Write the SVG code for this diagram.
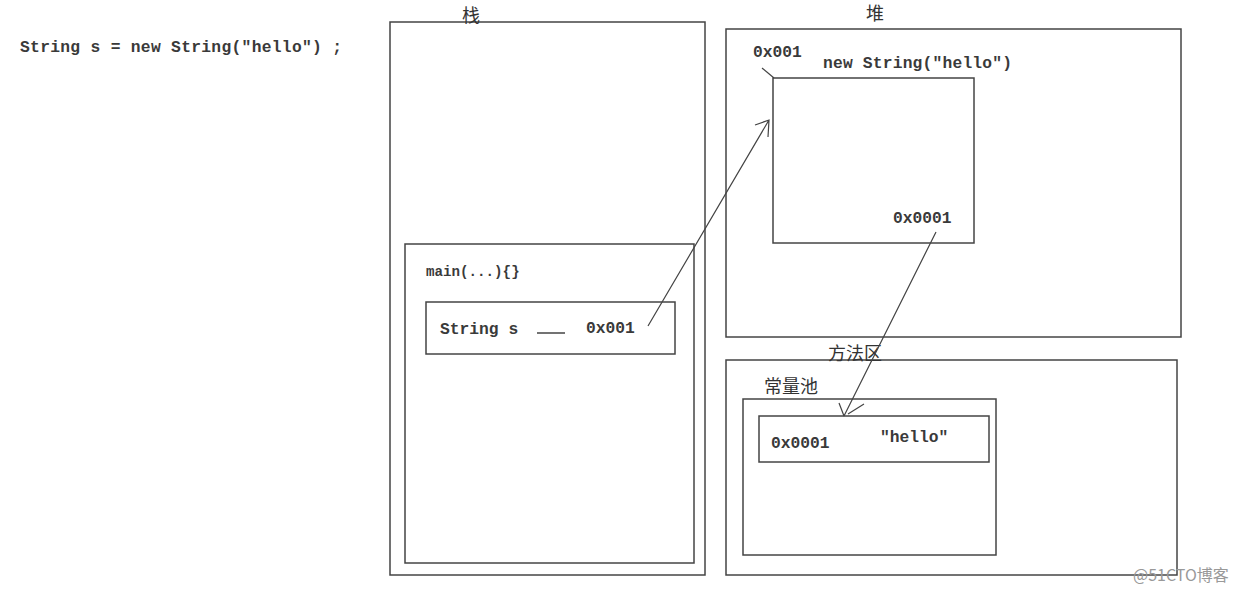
<svg xmlns="http://www.w3.org/2000/svg" width="1240" height="592" viewBox="0 0 1240 592">
<defs>
<style>
.box{fill:none;stroke:#444;stroke-width:1.5}
.mono{font-family:"Liberation Mono","Courier New",monospace;font-size:16.3px;fill:#3a3a3a;font-weight:bold}
.cjk{font-family:"Noto Sans CJK SC","Liberation Sans",sans-serif;font-size:18px;fill:#333}
.conn{fill:none;stroke:#444;stroke-width:1.2}
</style>
</defs>
<rect width="1240" height="592" fill="#fff"/>
<text class="mono" x="20" y="52" textLength="322" lengthAdjust="spacing">String s = new String("hello") ;</text>
<g id="stack">
<rect class="box" x="390" y="22" width="315" height="553"/>
<text class="cjk" x="462" y="22">栈</text>
</g>
<g id="main">
<rect class="box" x="405" y="244" width="289" height="319"/>
<text class="mono" x="426" y="276" style="font-size:14.2px">main(...){}</text>
</g>
<g id="var-s">
<rect class="box" x="426" y="302" width="249" height="52"/>
<text class="mono" x="440" y="334">String s</text>
<line x1="537" y1="333" x2="565" y2="333" stroke="#444" stroke-width="1.5"/>
<text class="mono" x="586" y="333">0x001</text>
</g>
<g id="heap">
<rect class="box" x="726" y="29" width="455" height="308"/>
<text class="cjk" x="866" y="20">堆</text>
</g>
<g id="string-obj">
<rect class="box" x="773" y="78" width="201" height="165"/>
<text class="mono" x="753" y="57">0x001</text>
<line x1="762" y1="68" x2="774" y2="78" stroke="#444" stroke-width="1.2"/>
<text class="mono" x="823" y="68" textLength="189" lengthAdjust="spacing">new String("hello")</text>
<text class="mono" x="893" y="223">0x0001</text>
</g>
<g id="method-area">
<rect class="box" x="726" y="360" width="451" height="215"/>
<text class="cjk" x="828" y="360">方法区</text>
</g>
<g id="constant-pool">
<rect class="box" x="743" y="399" width="253" height="156"/>
<text class="cjk" x="764" y="393">常量池</text>
</g>
<g id="hello-entry">
<rect class="box" x="759" y="416" width="230" height="46"/>
<text class="mono" x="771" y="448">0x0001</text>
<text class="mono" x="880" y="442">"hello"</text>
</g>
<g id="connectors">
<path class="conn" d="M648,326 L769,120 M755,125 L769,120 L768,137"/>
<path class="conn" d="M936,232 L844,416 M839,403 L844,416 M848,414 L864,404"/>
</g>
<text x="1133" y="581" style="font-family:'Noto Sans CJK SC','Liberation Sans',sans-serif;font-size:16px;fill:#999">@51CTO博客</text>
</svg>
